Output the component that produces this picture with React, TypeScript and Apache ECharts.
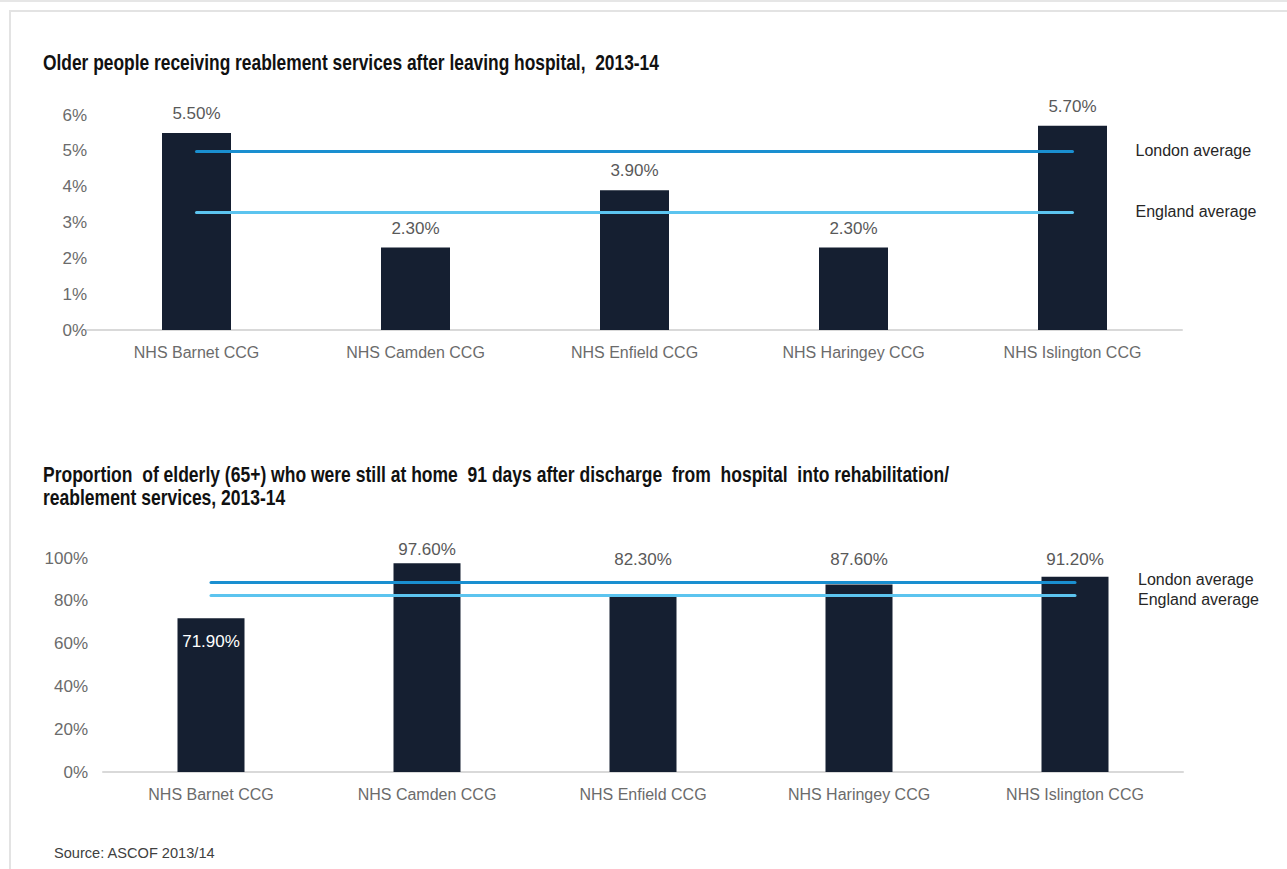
import React, { useEffect, useRef } from "react";
import * as echarts from "echarts";

const categories = ["NHS Barnet CCG", "NHS Camden CCG", "NHS Enfield CCG", "NHS Haringey CCG", "NHS Islington CCG"];
const reablementValues = [5.5, 2.3, 3.9, 2.3, 5.7];
const reablementLondon = 5.0;
const reablementEngland = 3.3;
const atHomeValues = [71.9, 97.6, 82.3, 87.6, 91.2];
const atHomeLondon = 88.5;
const atHomeEngland = 82.6;
const topTicks = [0, 1, 2, 3, 4, 5, 6];
const bottomTicks = [0, 20, 40, 60, 80, 100];

const titleTop = "Older people receiving reablement services after leaving hospital,  2013-14";
const titleBottom = "Proportion  of elderly (65+) who were still at home  91 days after discharge  from  hospital  into rehabilitation/\nreablement services, 2013-14";
const sourceText = "Source: ASCOF 2013/14";

const FONT_R = "'Liberation Sans', Arial, sans-serif";
const BAR = "#151f31";
const LONDON = "#1a8fd0";
const ENGLAND = "#5cc4ef";
const GREY = "#6b6b6b";

export default function App() {
  const ref = useRef<HTMLDivElement>(null);
  useEffect(() => {
    if (!ref.current) return;
    const chart = echarts.init(ref.current, null, { renderer: "svg" });
    const avgLine = (name: string, value: number, color: string, vAlign: string, lh: number) => [
      {
        name,
        coord: [categories[0], value],
        lineStyle: { color, width: 3, type: "solid", cap: "round" },
        label: {
          show: true,
          position: "end",
          formatter: name,
          distance: 63,
          color: "#262626",
          fontSize: 16,
          fontFamily: FONT_R,
          verticalAlign: vAlign,
          lineHeight: lh,
        },
      },
      { coord: [categories[categories.length - 1], value] },
    ];
    // per-bar label placement for the lower chart (style only)
    const bottomLabelDist = [14, 5, 28, 17, 9];
    const bottomData = atHomeValues.map((v, i) =>
      i === 0
        ? { value: v, label: { position: "insideTop", distance: 15, color: "#ffffff" } }
        : { value: v, label: { position: "top", distance: bottomLabelDist[i] } }
    );
    chart.setOption({
      animation: false,
      backgroundColor: "#ffffff",
      title: [
        {
          text: sourceText,
          left: 54,
          top: 845,
          padding: 0,
          textStyle: { fontFamily: FONT_R, fontWeight: "normal", fontSize: 14.6, color: "#404040" },
        },
      ],
      graphic: [
        { type: "line", shape: { x1: 0, y1: 1, x2: 1287, y2: 1 }, style: { stroke: "#e6e6e6", lineWidth: 2 }, silent: true },
        { type: "rect", shape: { x: 10, y: 11, width: 1300, height: 900 }, style: { fill: "none", stroke: "#e3e3e3", lineWidth: 2 }, silent: true },
        {
          type: "text",
          x: 43,
          y: 62,
          scaleX: 0.79,
          silent: true,
          style: {
            text: titleTop,
            fontFamily: FONT_R,
            fontWeight: "bold",
            fontSize: 22,
            fill: "#111111",
            verticalAlign: "middle",
          },
        },
        {
          type: "text",
          x: 43,
          y: 462.5,
          scaleX: 0.796,
          silent: true,
          style: {
            text: titleBottom,
            fontFamily: FONT_R,
            fontWeight: "bold",
            fontSize: 22,
            lineHeight: 23,
            fill: "#111111",
            verticalAlign: "top",
          },
        },
      ],
      grid: [
        { left: 87, width: 1095, top: 115, height: 215 },
        { left: 103, width: 1080, top: 558, height: 214 },
      ],
      xAxis: [0, 1].map((gi) => ({
        type: "category",
        gridIndex: gi,
        data: categories,
        axisLine: { show: true, lineStyle: { color: "#d9d9d9", width: 2 } },
        axisTick: { show: false },
        axisLabel: { color: GREY, fontSize: 16, fontFamily: FONT_R, margin: 14 },
      })),
      yAxis: [
        {
          type: "value",
          gridIndex: 0,
          min: topTicks[0],
          max: topTicks[topTicks.length - 1],
          interval: 1,
          splitLine: { show: false },
          axisLine: { show: false },
          axisLabel: { color: GREY, fontSize: 17, fontFamily: FONT_R, margin: 0, formatter: "{value}%" },
        },
        {
          type: "value",
          gridIndex: 1,
          min: bottomTicks[0],
          max: bottomTicks[bottomTicks.length - 1],
          interval: 20,
          splitLine: { show: false },
          axisLine: { show: false },
          axisLabel: { color: GREY, fontSize: 17, fontFamily: FONT_R, margin: 15, formatter: "{value}%" },
        },
      ],
      series: [
        {
          type: "bar",
          xAxisIndex: 0,
          yAxisIndex: 0,
          data: reablementValues,
          barWidth: 69,
          itemStyle: { color: BAR },
          label: {
            show: true,
            position: "top",
            distance: 11,
            color: "#595959",
            fontSize: 17,
            fontFamily: FONT_R,
            formatter: (p: any) => p.value.toFixed(2) + "%",
          },
          markLine: {
            silent: true,
            symbol: "none",
            z: 10,
            data: [
              avgLine("London average", reablementLondon, LONDON, "middle", 20),
              avgLine("England average", reablementEngland, ENGLAND, "middle", 20),
            ],
          },
        },
        {
          type: "bar",
          xAxisIndex: 1,
          yAxisIndex: 1,
          data: bottomData,
          barWidth: 67,
          itemStyle: { color: BAR },
          label: {
            show: true,
            color: "#595959",
            fontSize: 17,
            fontFamily: FONT_R,
            formatter: (p: any) => p.value.toFixed(2) + "%",
          },
          markLine: {
            silent: true,
            symbol: "none",
            z: 10,
            data: [
              avgLine("London average", atHomeLondon, LONDON, "bottom", 7),
              avgLine("England average", atHomeEngland, ENGLAND, "top", 8),
            ],
          },
        },
      ],
    });
    return () => chart.dispose();
  }, []);
  return <div ref={ref} style={{ position: "fixed", left: 0, top: 0, width: 1287, height: 869 }} />;
}
